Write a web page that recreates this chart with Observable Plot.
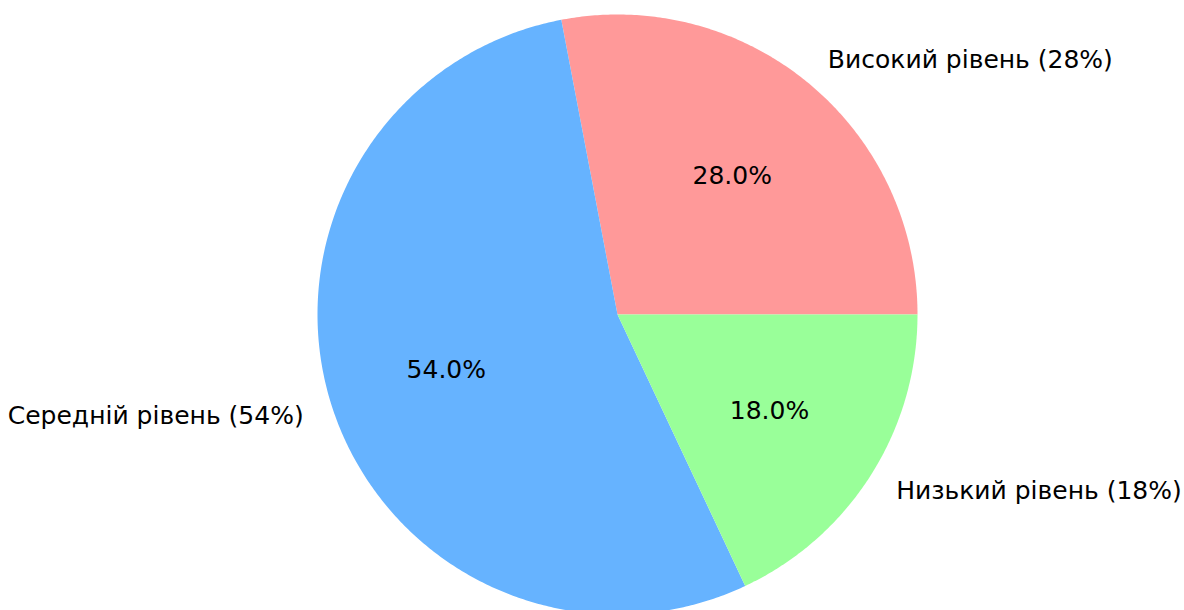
<!DOCTYPE html>
<html>
<head>
<meta charset="utf-8">
<script src="https://cdn.jsdelivr.net/npm/d3@7"></script>
<script src="https://cdn.jsdelivr.net/npm/@observablehq/plot@0.6"></script>
<style>
  html, body { margin: 0; padding: 0; background: #fff; }
  #chart svg { display: block; font-family: "DejaVu Sans", sans-serif; }
</style>
</head>
<body>
<div id="chart"></div>
<script>
const categories = ["Високий рівень", "Середній рівень", "Низький рівень"];
const values = [28, 54, 18];
const colors = ["#ff9999", "#66b3ff", "#99ff99"];

const W = 1184, H = 610;
const cx = 617, cy = 314, R = 300;

const total = d3.sum(values);
// matplotlib-style: start at 0 rad (3 o'clock), counterclockwise
let acc = 0;
const slices = values.map((v, i) => {
  const a0 = acc / total * 2 * Math.PI;
  acc += v;
  const a1 = acc / total * 2 * Math.PI;
  return {cat: categories[i], value: v, color: colors[i], a0, a1, mid: (a0 + a1) / 2};
});

function wedge(s) {
  const pts = [{x: 0, y: 0}];
  const n = Math.max(2, Math.ceil((s.a1 - s.a0) / (Math.PI / 360)));
  for (let k = 0; k <= n; k++) {
    const a = s.a0 + (s.a1 - s.a0) * k / n;
    pts.push({x: Math.cos(a), y: Math.sin(a)});
  }
  pts.push({x: 0, y: 0});
  return pts;
}

const labels = slices.map(s => ({
  x: 1.1 * Math.cos(s.mid), y: 1.1 * Math.sin(s.mid),
  text: `${s.cat} (${s.value}%)`,
  anchor: Math.cos(s.mid) >= 0 ? "start" : "end"
}));
const pcts = slices.map(s => ({
  x: 0.6 * Math.cos(s.mid), y: 0.6 * Math.sin(s.mid),
  text: (s.value / total * 100).toFixed(1) + "%"
}));

const FS = 25;
const plot = Plot.plot({
  width: W, height: H,
  margin: 0,
  x: {domain: [-cx / R, (W - cx) / R], axis: null},
  y: {domain: [-(H - cy) / R, cy / R], axis: null},
  style: {fontFamily: "DejaVu Sans, sans-serif", background: "#fff"},
  marks: [
    ...slices.map(s => Plot.line(wedge(s), {x: "x", y: "y", fill: s.color, stroke: "none", curve: "linear"})),
    Plot.text(labels.filter(d => d.anchor === "start"), {x: "x", y: "y", text: "text", textAnchor: "start", fontSize: FS, fill: "#000"}),
    Plot.text(labels.filter(d => d.anchor === "end"), {x: "x", y: "y", text: "text", textAnchor: "end", fontSize: FS, fill: "#000"}),
    Plot.text(pcts, {x: "x", y: "y", text: "text", fontSize: FS, fill: "#000"})
  ]
});
document.getElementById("chart").appendChild(plot);
</script>
</body>
</html>
